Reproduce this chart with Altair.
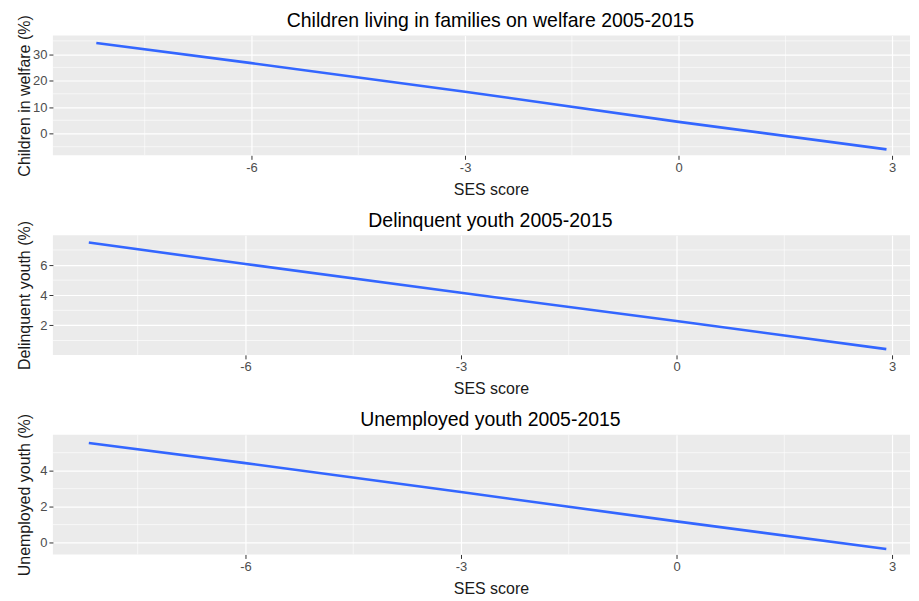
import altair as alt
import pandas as pd

# ---- data ----
ses = [-8.18, -6, -3, 0, 2.92]
welfare = [34.2, 26.6, 15.8, 4.4, -6.0]
delinquent = [7.49, 6.07, 4.16, 2.29, 0.43]
unemployed = [5.54, 4.42, 2.81, 1.18, -0.36]

titles = [
    "Children living in families on welfare 2005-2015",
    "Delinquent youth 2005-2015",
    "Unemployed youth 2005-2015",
]
y_titles = ["Children in welfare (%)", "Delinquent youth (%)", "Unemployed youth (%)"]
x_title = "SES score"

x_major = [-6, -3, 0, 3]
x_minor = [-7.5, -4.5, -1.5, 1.5]
y_major = [[0, 10, 20, 30], [2, 4, 6], [0, 2, 4]]
y_minor = [[-5, 5, 15, 25, 35], [1, 3, 5, 7], [1, 3, 5]]
y_domains = [[-8.25, 37], [0.05, 7.98], [-0.66, 6.0]]
x_domains = [[-8.79, 3.25], [-8.68, 3.25], [-8.68, 3.25]]
title_offsets = [-17, -10.7, -17.4]
series = [welfare, delinquent, unemployed]

FONT = "Liberation Sans"
W = 859
H = 120


def panel(i):
    df = pd.DataFrame({"x": ses, "y": series[i]})
    xs = alt.Scale(domain=x_domains[i], nice=False, zero=False)
    ys = alt.Scale(domain=y_domains[i], nice=False, zero=False)
    x_axis = alt.Axis(values=x_major, title=x_title, labelExpr="'' + datum.value",
                      titleX=439, titlePadding=7)
    y_axis = alt.Axis(values=y_major[i], title=y_titles[i], labelExpr="'' + datum.value",
                      minExtent=18, maxExtent=18, titlePadding=2)
    minor_x = alt.Chart(pd.DataFrame({"v": x_minor})).mark_rule(
        color="white", strokeWidth=0.6
    ).encode(x=alt.X("v:Q", scale=xs, axis=x_axis))
    minor_y = alt.Chart(pd.DataFrame({"v": y_minor[i]})).mark_rule(
        color="white", strokeWidth=0.6
    ).encode(y=alt.Y("v:Q", scale=ys, axis=y_axis))
    line = alt.Chart(df).mark_line(color="#3366FF", strokeWidth=2.6).encode(
        x=alt.X("x:Q", scale=xs, axis=x_axis),
        y=alt.Y("y:Q", scale=ys, axis=y_axis),
    )
    return alt.layer(minor_x, minor_y, line).properties(
        width=W,
        height=H,
        title=alt.TitleParams(titles[i], anchor="middle", offset=title_offsets[i], dx=9),
    )


chart = alt.ConcatChart(
    concat=[panel(0), panel(1), panel(2)],
    columns=1,
    spacing=13,
).properties(
    padding={"left": 8, "top": 2, "right": 0, "bottom": 0}
).configure_view(
    fill="#EBEBEB", stroke=None
).configure_axis(
    domain=False,
    grid=True,
    gridColor="white",
    gridWidth=1.2,
    tickColor="#333333",
    tickSize=4,
    tickWidth=1,
    labelColor="#4D4D4D",
    labelFont=FONT,
    labelFontSize=13,
    labelPadding=2,
    titleFont=FONT,
    titleFontSize=16,
    titleFontWeight="normal",
    titleColor="#1a1a1a",
).configure_title(
    font=FONT, fontSize=19.5, fontWeight="normal", color="black"
)

chart.save("out.html", embed_options={"renderer": "svg", "actions": False})
